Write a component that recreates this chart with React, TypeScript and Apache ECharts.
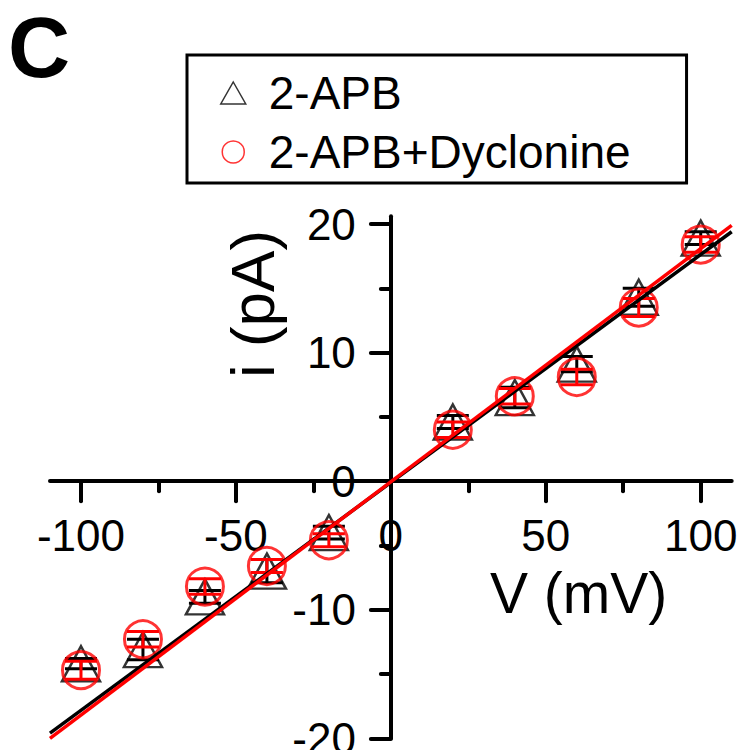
import React, { useEffect, useRef } from "react";
import * as echarts from "echarts";

// Holding potentials (mV)
const voltages = [-100, -80, -60, -40, -20, 20, 40, 60, 80, 100];

// Mean single-channel current (pA) and SEM for each condition
const apbMean = [-14.2, -13.1, -9.0, -7.0, -4.0, 4.6, 6.5, 9.1, 14.3, 18.9];
const apbErr = [0.4, 0.8, 0.5, 0.9, 0.5, 0.5, 0.8, 0.6, 0.7, 0.5];
const dycMean = [-14.7, -12.3, -8.2, -6.6, -4.6, 4.0, 6.6, 8.1, 13.5, 18.4];
const dycErr = [0.7, 0.6, 0.6, 0.5, 0.5, 0.6, 0.6, 0.6, 0.7, 0.6];

// Linear fits evaluated at the ends of the voltage axis
const fitV = [-110, 110];
const apbFit = [-19.6, 19.4];
const dycFit = [-20.0, 19.9];

// Axis ranges, ticks and labels
const xRange = [-110, 110];
const yRange = [-20, 20.6];
const xMajor = [-100, -50, 0, 50, 100];
const xMinor = [-75, -25, 25, 75];
const yMajor = [-20, -10, 0, 10, 20];
const yMinor = [-15, -5, 5, 15];

const seriesNames = ["2-APB", "2-APB+Dyclonine"];

const FONT = "Liberation Sans, Arial, Helvetica, sans-serif";

// Plot area
const W = 740;
const H = 750;
const GRID = { left: 50, right: 8.3, top: 216.3, bottom: 11.7 };

function errorBarSeries(mean: number[], err: number[], color: string, z: number) {
  return {
    type: "custom",
    silent: true,
    z,
    data: voltages.map((v, i) => [v, mean[i], err[i]]),
    encode: { x: 0, y: 1 },
    renderItem: (_params: any, api: any) => {
      const v = api.value(0);
      const m = api.value(1);
      const e = api.value(2);
      const top = api.coord([v, m + e]);
      const bot = api.coord([v, m - e]);
      const hw = 16;
      const style = { stroke: color, lineWidth: 3 };
      return {
        type: "group",
        children: [
          { type: "line", shape: { x1: top[0], y1: top[1], x2: bot[0], y2: bot[1] }, style },
          { type: "line", shape: { x1: top[0] - hw, y1: top[1], x2: top[0] + hw, y2: top[1] }, style },
          { type: "line", shape: { x1: bot[0] - hw, y1: bot[1], x2: bot[0] + hw, y2: bot[1] }, style },
        ],
      };
    },
  };
}

export default function App() {
  const ref = useRef<HTMLDivElement>(null);

  useEffect(() => {
    if (!ref.current) return;
    const chart = echarts.init(ref.current, null, { renderer: "svg" });

    // The axes cross at the origin: shift them from the grid edges to the zero lines.
    const gridW = W - GRID.left - GRID.right;
    const gridH = H - GRID.top - GRID.bottom;
    const yAxisShift = -((0 - xRange[0]) / (xRange[1] - xRange[0])) * gridW;
    const xAxisShift = -((0 - yRange[0]) / (yRange[1] - yRange[0])) * gridH;

    const axisLineStyle = { color: "#000", width: 4, cap: "round" };
    const labelStyle = { color: "#000", fontSize: 44, fontFamily: FONT };

    const xBase = {
      type: "value",
      position: "bottom",
      min: xRange[0],
      max: xRange[1],
      offset: xAxisShift,
      splitLine: { show: false },
    };
    const yBase = {
      type: "value",
      position: "left",
      min: yRange[0],
      max: yRange[1],
      offset: yAxisShift,
      splitLine: { show: false },
    };

    chart.setOption({
      animation: false,
      backgroundColor: "#fff",
      title: {
        text: "C",
        left: 8,
        top: 4,
        padding: 0,
        textStyle: { fontSize: 86, fontWeight: "bold", fontFamily: FONT, color: "#000" },
      },
      legend: {
        data: seriesNames,
        orient: "vertical",
        left: 187,
        top: 55,
        padding: [15, 56, 8, 33],
        itemGap: 13,
        itemWidth: 25,
        itemHeight: 22,
        borderColor: "#000",
        borderWidth: 3,
        selectedMode: false,
        itemStyle: { borderWidth: 1.5 },
        textStyle: { fontSize: 46, fontFamily: FONT, color: "#000", padding: [0, 0, 0, 18] },
      },
      grid: { ...GRID, outerBoundsMode: "none" },
      xAxis: [
        {
          ...xBase,
          axisLine: { show: true, onZero: false, lineStyle: axisLineStyle },
          axisTick: { show: true, length: 20, customValues: xMajor, lineStyle: axisLineStyle },
          axisLabel: { show: true, customValues: xMajor, margin: 32, ...labelStyle },
        },
        {
          ...xBase,
          axisLine: { show: false, onZero: false },
          axisTick: { show: true, length: 10, customValues: xMinor, lineStyle: axisLineStyle },
          axisLabel: { show: false },
        },
      ],
      yAxis: [
        {
          ...yBase,
          axisLine: { show: true, onZero: false, lineStyle: axisLineStyle },
          axisTick: { show: true, length: 20, customValues: yMajor, lineStyle: axisLineStyle },
          axisLabel: {
            show: true,
            customValues: yMajor,
            margin: 35,
            padding: [0, 0, 8, 0],
            ...labelStyle,
          },
        },
        {
          ...yBase,
          axisLine: { show: false, onZero: false },
          axisTick: { show: true, length: 10, customValues: yMinor, lineStyle: axisLineStyle },
          axisLabel: { show: false },
        },
      ],
      graphic: [
        {
          type: "text",
          x: 490,
          y: 593,
          style: {
            text: "V (mV)",
            font: `57px ${FONT}`,
            fill: "#000",
            textAlign: "left",
            verticalAlign: "middle",
          },
        },
        {
          type: "text",
          x: 252,
          y: 304,
          rotation: Math.PI / 2,
          style: {
            text: "i (pA)",
            font: `62px ${FONT}`,
            fill: "#000",
            textAlign: "center",
            verticalAlign: "middle",
          },
        },
      ],
      series: [
        errorBarSeries(apbMean, apbErr, "#000", 2),
        {
          name: seriesNames[0],
          type: "scatter",
          z: 3,
          symbol: "triangle",
          symbolSize: [38, 35],
          data: voltages.map((v, i) => [v, apbMean[i]]),
          itemStyle: { color: "rgba(0,0,0,0)", borderColor: "#000", borderWidth: 2.5 },
        },
        errorBarSeries(dycMean, dycErr, "#ff0000", 4),
        {
          name: seriesNames[1],
          type: "scatter",
          z: 5,
          symbol: "circle",
          symbolSize: 37,
          data: voltages.map((v, i) => [v, dycMean[i]]),
          itemStyle: { color: "rgba(0,0,0,0)", borderColor: "#ff0000", borderWidth: 3 },
        },
        {
          name: "2-APB fit",
          type: "line",
          z: 6,
          showSymbol: false,
          silent: true,
          clip: false,
          data: fitV.map((v, i) => [v, apbFit[i]]),
          lineStyle: { color: "#000", width: 3.5 },
        },
        {
          name: "2-APB+Dyclonine fit",
          type: "line",
          z: 7,
          showSymbol: false,
          silent: true,
          clip: false,
          data: fitV.map((v, i) => [v, dycFit[i]]),
          lineStyle: { color: "#ff0000", width: 3.5 },
        },
      ],
    });

    return () => chart.dispose();
  }, []);

  return (
    <div
      ref={ref}
      style={{ position: "fixed", left: 0, top: 0, width: W, height: H, background: "#fff" }}
    />
  );
}
